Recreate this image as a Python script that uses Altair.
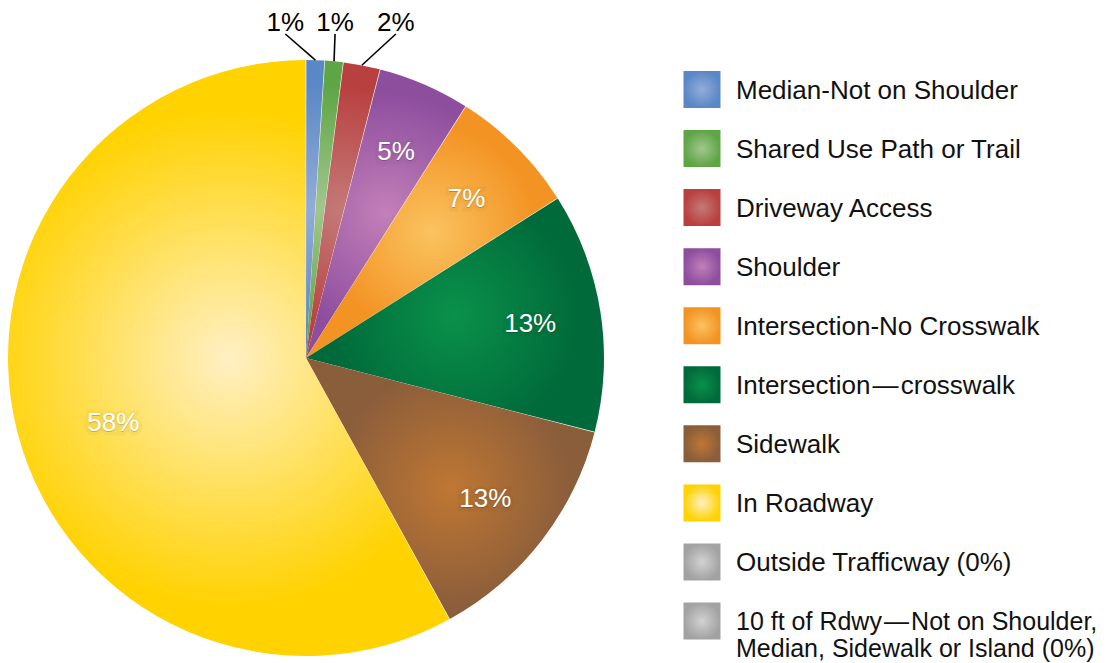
import altair as alt
import pandas as pd

# ---------------- data ----------------
categories = [
    "Median-Not on Shoulder",
    "Shared Use Path or Trail",
    "Driveway Access",
    "Shoulder",
    "Intersection-No Crosswalk",
    "Intersection\u200a\u2014\u200acrosswalk",
    "Sidewalk",
    "In Roadway",
]
percents = [1, 1, 2, 5, 7, 13, 13, 58]
pct_labels = ["1%", "1%", "2%", "5%", "7%", "13%", "13%", "58%"]
extra_items = [
    "Outside Trafficway (0%)",
    "10 ft of Rdwy\u200a\u2014\u200aNot on Shoulder,\nMedian, Sidewalk or Island (0%)",
]

# ---------------- style ----------------
edge_colors = ["#5a87c5", "#5ea545", "#b8403f", "#8d4e9e", "#f39324", "#006a3a",
               "#8a5d3b", "#ffd200", "#a2a2a2", "#a2a2a2"]
center_colors = ["#93acd9", "#a2c78e", "#c47a78", "#c27fb8", "#fac35f", "#0a914a",
                 "#bf7733", "#fff0c4", "#d2d2d2", "#d2d2d2"]

FONT = "Liberation Sans"
CX, CY, R = 298, 350, 298
PIE_W, PIE_H = 598, 648
LEG_W = 490
OUT_DX = {0: -30, 1: 1, 2: 34}


def grad(c_in, c_out, r2):
    return {
        "gradient": "radial",
        "x1": 0.5, "y1": 0.5, "r1": 0,
        "x2": 0.5, "y2": 0.5, "r2": r2,
        "stops": [{"offset": 0, "color": c_in}, {"offset": 1, "color": c_out}],
    }


def fill_by_idx(n, r2):
    conds = [
        {"test": f"datum.idx === {i}", "value": grad(center_colors[i], edge_colors[i], r2)}
        for i in range(n - 1)
    ]
    return alt.FillValue(grad(center_colors[n - 1], edge_colors[n - 1], r2), condition=conds)


pie_df = pd.DataFrame({
    "idx": list(range(len(categories))),
    "category": categories,
    "pct": percents,
    "label": pct_labels,
})
legend_items = categories + extra_items
leg_df = pd.DataFrame({"idx": list(range(len(legend_items))), "item": legend_items})

theta_scale = alt.Scale(domain=[0, 100])

base = alt.Chart(pie_df).transform_window(
    end="sum(pct)", sort=[alt.SortField("idx", order="ascending")], frame=[None, 0]
).transform_calculate(
    start="datum.end - datum.pct",
    mid="datum.end - datum.pct / 2",
)

arcs = base.mark_arc(radius=R, padAngle=0.0022, strokeWidth=0).encode(
    theta=alt.Theta("start:Q", scale=theta_scale, stack=None),
    theta2=alt.Theta2("end:Q"),
    x=alt.value(CX),
    y=alt.value(CY),
    fill=fill_by_idx(len(categories), 0.42),
)


def label_layer(filter_expr, radius, dx=0, dy=0, **style):
    return base.transform_filter(filter_expr).mark_text(
        radius=radius, font=FONT, fontSize=26, align="center", baseline="middle",
        dx=dx, dy=dy, **style
    ).encode(
        theta=alt.Theta("mid:Q", scale=theta_scale, stack=None),
        x=alt.value(CX),
        y=alt.value(CY),
        text="label:N",
    )


shadow_style = dict(color="#000000", opacity=0.22, stroke="#000000", strokeWidth=7,
                    strokeOpacity=0.14)
text_style = dict(color="#ffffff")

inner_layers = []
for expr, rad, ddx, ddy in [("datum.pct >= 5 && datum.pct < 50", 227, 0, 2),
                            ("datum.pct >= 50", 202, 3, 15)]:
    inner_layers.append(label_layer(expr, rad, ddx, ddy + 1, **shadow_style))
    inner_layers.append(label_layer(expr, rad, ddx, ddy, **text_style))

outside_layers = []
outside = base.transform_filter("datum.pct < 5").transform_calculate(
    sx=f"{CX} + {R} * sin(datum.mid / 100 * 2 * PI)",
    sy=f"{CY} - {R} * cos(datum.mid / 100 * 2 * PI)",
)
for i, dx in OUT_DX.items():
    sub = outside.transform_filter(f"datum.idx === {i}").transform_calculate(
        lx=f"datum.sx + ({dx})"
    )
    outside_layers.append(
        sub.mark_rule(color="#000000", strokeWidth=1.6).encode(
            x=alt.X("sx:Q", scale=None),
            y=alt.Y("sy:Q", scale=None),
            x2=alt.X2("lx:Q"),
            y2=alt.value(26),
        )
    )
    outside_layers.append(
        sub.mark_text(font=FONT, fontSize=26, color="#000000", align="center",
                      baseline="middle").encode(
            x=alt.X("lx:Q", scale=None),
            y=alt.value(14.5),
            text="label:N",
        )
    )

pie = alt.layer(arcs, *inner_layers, *outside_layers).properties(width=PIE_W, height=PIE_H)

ypos = alt.Y("idx:O", scale=alt.Scale(type="point", range=[81.5, 613], padding=0), axis=None)
swatches = alt.Chart(leg_df).mark_square(size=37 * 37, opacity=1, strokeWidth=0).encode(
    x=alt.value(96),
    y=ypos,
    fill=fill_by_idx(len(legend_items), 0.5),
)
texts = alt.Chart(leg_df).mark_text(
    align="left", baseline="top", dy=-11.5, font=FONT,
    lineBreak="\n", lineHeight=27, color="#111111",
).encode(
    x=alt.value(130),
    y=ypos,
    text="item:N",
    size=alt.SizeValue(26, condition={"test": f"datum.idx === {len(legend_items) - 1}", "value": 25}),
)
legend = alt.layer(swatches, texts).properties(width=LEG_W, height=PIE_H)

chart = alt.hconcat(pie, legend, spacing=0, bounds="flush").properties(
    padding=0
).configure_view(strokeWidth=0)

chart.save("out.html", embed_options={"renderer": "svg", "actions": False})
